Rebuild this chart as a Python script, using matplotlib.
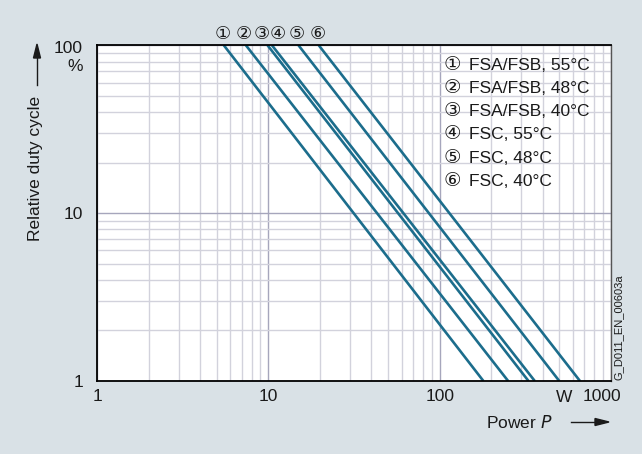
import numpy as np
import matplotlib.pyplot as plt
from matplotlib.ticker import FixedLocator, NullFormatter
from matplotlib.transforms import ScaledTranslation

# Kennlinien: Leistung bei 100 % und bei 1 % relativer Einschaltdauer
curve_ids = ['①', '②', '③', '④', '⑤', '⑥']
curve_names = ['FSA/FSB, 55°C', 'FSA/FSB, 48°C', 'FSA/FSB, 40°C',
               'FSC, 55°C', 'FSC, 48°C', 'FSC, 40°C']
power_at_100 = [5.5, 7.4, 9.9, 10.5, 15.0, 19.7]
power_at_1 = [180, 251, 330, 359, 499, 659]
duty_ends = [100, 1]

x_ticks = [1, 10, 100, 1000]
x_ticklabels = ['1', '10', '100', '1000']
y_ticks = [1, 10, 100]
y_ticklabels = ['1', '10', '100']

W, H = 642, 454
bg = '#d9e1e6'
line_col = '#1c6d8c'
txt_col = '#1a1a1a'
fs = 12.5
plt.rcParams['font.family'] = ['Liberation Sans', 'DejaVu Sans']


def fx(px):
    return px / W


def fy(py):
    return 1 - py / H


fig = plt.figure(figsize=(W / 100, H / 100), dpi=100, facecolor=bg)
ax = fig.add_axes([fx(97), fy(381), fx(611) - fx(97), fy(45.3) - fy(381)])
ax.set_facecolor('white')
ax.set_xscale('log')
ax.set_yscale('log')
ax.set_xlim(1, 1000)
ax.set_ylim(1, 100)

# Gitter
minor_x = [m * 10 ** e for e in range(3) for m in range(2, 10)]
minor_y = [m * 10 ** e for e in range(2) for m in range(2, 10)]
ax.xaxis.set_minor_locator(FixedLocator(minor_x))
ax.yaxis.set_minor_locator(FixedLocator(minor_y))
ax.xaxis.set_minor_formatter(NullFormatter())
ax.yaxis.set_minor_formatter(NullFormatter())
ax.grid(which='minor', color='#d2d2dc', linewidth=1.0)
ax.grid(which='major', color='#a6a6bc', linewidth=1.0)
ax.set_axisbelow(True)

ax.set_xticks(x_ticks)
ax.set_xticklabels(x_ticklabels)
ax.set_yticks(y_ticks)
ax.set_yticklabels(y_ticklabels)
ax.tick_params(axis='x', which='both', length=0, labelsize=fs, colors=txt_col, pad=6)
ax.tick_params(axis='y', which='both', length=0, labelsize=fs, colors=txt_col, pad=10)
# "1000" sitzt etwas links der Gitterlinie
last = ax.get_xticklabels()[-1]
last.set_transform(last.get_transform() + ScaledTranslation(-9 / 100, 0, fig.dpi_scale_trans))
top = ax.get_yticklabels()[-1]
top.set_transform(top.get_transform() + ScaledTranslation(0, -2 / 100, fig.dpi_scale_trans))

ax.annotate('%', xy=(1, 100), xytext=(-10, -15), textcoords='offset points',
            ha='right', va='center', fontsize=fs, color=txt_col, annotation_clip=False)

for s in ['left', 'bottom', 'top']:
    ax.spines[s].set_color('black')
    ax.spines[s].set_linewidth(1.3)
ax.spines['right'].set_color('#555555')
ax.spines['right'].set_linewidth(1.0)

# Kennlinien
for p100, p1 in zip(power_at_100, power_at_1):
    ax.plot([p100, p1], duty_ends, color=line_col, linewidth=1.9,
            solid_capstyle='butt')

# Nummern über dem Diagramm
offsets = [-1, -1.5, -4.5, 4, -1, -1]
for cid, p100, off in zip(curve_ids, power_at_100, offsets):
    ax.annotate(cid, xy=(p100, 100), xytext=(off, 7.5), textcoords='offset points',
                ha='center', va='center', fontsize=13, color=txt_col,
                annotation_clip=False)

# Legende
for i, (cid, name) in enumerate(zip(curve_ids, curve_names)):
    y = 65 + i * 23.3
    fig.text(fx(452), fy(y), cid, ha='center', va='center', fontsize=14,
             color=txt_col)
    fig.text(fx(469), fy(y), name, ha='left', va='center', fontsize=fs,
             color=txt_col)

# Achsenbeschriftungen mit Pfeilen
fig.text(fx(36), fy(168), 'Relative duty cycle', rotation=90, ha='center',
         va='center', fontsize=fs, color=txt_col)
fig.add_artist(plt.Line2D([fx(37), fx(37)], [fy(85), fy(52)], color=txt_col,
                          linewidth=1.0))
fig.patches.append(plt.Polygon([[fx(33.5), fy(58)], [fx(40.5), fy(58)], [fx(37), fy(44)]],
                               closed=True, color=txt_col, transform=fig.transFigure))

fig.text(fx(486), fy(422), 'Power $\\it{P}$', ha='left', va='center',
         fontsize=fs, color=txt_col)
fig.add_artist(plt.Line2D([fx(571), fx(600)], [fy(422), fy(422)], color=txt_col,
                          linewidth=1.0))
fig.patches.append(plt.Polygon([[fx(595), fy(418.5)], [fx(595), fy(425.5)], [fx(609), fy(422)]],
                               closed=True, color=txt_col, transform=fig.transFigure))

fig.text(fx(564), fy(398), 'W', ha='center', va='center', fontsize=fs,
         color=txt_col)

fig.text(fx(619), fy(327), 'G_D011_EN_00603a', rotation=90, ha='center',
         va='center', fontsize=8, color=txt_col)

fig.savefig('out.png', dpi=100, facecolor=bg)
